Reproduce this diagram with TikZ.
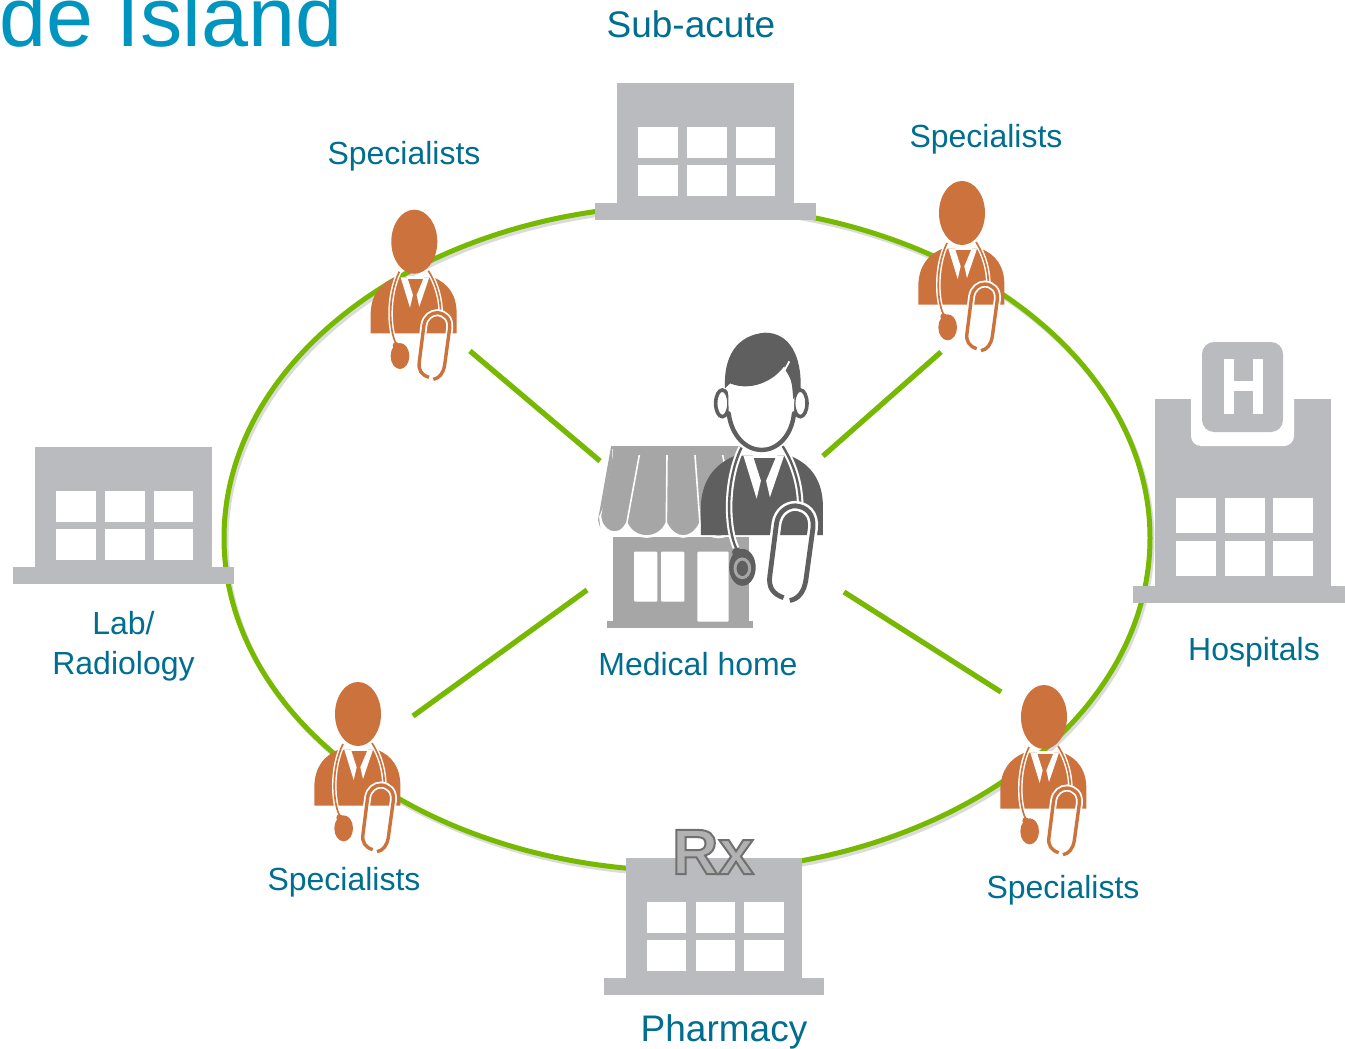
\documentclass[tikz,border=0pt]{standalone}
\usepackage{fontspec}
\setmainfont{Liberation Sans}
\definecolor{ringgreen}{HTML}{76B900}
\definecolor{bldggray}{HTML}{BABBBF}
\definecolor{docorange}{HTML}{CC723C}
\definecolor{labelblue}{HTML}{006E91}
\definecolor{titleblue}{HTML}{0095BF}
\definecolor{darkdoc}{HTML}{5F5F5F}
\definecolor{storegray}{HTML}{A6A6A6}
\tikzset{
  lab/.style={inner sep=0pt,text=labelblue,font=\fontsize{32}{40}\selectfont,align=center},
  biglab/.style={inner sep=0pt,text=labelblue,font=\fontsize{37}{42}\selectfont},
  spoke/.style={draw=ringgreen,line width=5.2pt},
  spokeshadow/.style={draw=black,opacity=.14,line width=5pt},
}
\newcommand{\windowrow}[2]{%
  \fill[white] (#1+21,#2) rectangle ++(39.5,31.5);
  \fill[white] (#1+70,#2) rectangle ++(39.5,31.5);
  \fill[white] (#1+118.5,#2) rectangle ++(39.5,31.5);}
\newcommand{\bldgfig}[2]{%
  \fill[bldggray] (#1,#2) rectangle ++(176.5,121);
  \fill[bldggray] (#1-22,#2+120) rectangle ++(220.5,17);
  \windowrow{#1}{#2+43.5}
  \windowrow{#1}{#2+81.5}}
\newcommand{\docbody}[4]{%
\begin{scope}[shift={(#1,#2)},scale=#3/3,shift={(-193,-125)}]
  \fill[#4] (62,400) -- (62,340) .. controls (64,285) and (90,250) .. (135,232)
     -- (250,232) .. controls (295,250) and (320,285) .. (320,340) -- (320,400) -- cycle;
  \fill[white] (152,232) -- (180,323) -- (189,285) -- (172,232) -- cycle;
  \fill[white] (238,232) -- (208,320) -- (200,285) -- (222,232) -- cycle;
  \fill[white] (172,228) rectangle (222,236);
  \draw[white,line width=#3*4.6pt] (148,215) .. controls (112,290) and (118,390) .. (137,428);
  \draw[#4,line width=#3*1.7pt] (148,215) .. controls (112,290) and (118,390) .. (137,428);
  \draw[white,line width=#3*4.6pt] (235,212) .. controls (262,255) and (272,300) .. (272,338);
  \draw[#4,line width=#3*1.7pt] (235,212) .. controls (262,255) and (272,300) .. (272,338);
  \draw[white,line width=#3*7pt] (237,532) .. controls (215,525) and (204,510) .. (208,485)
     -- (222,375) .. controls (226,350) and (245,338) .. (262,338)
     .. controls (285,340) and (302,355) .. (299,385)
     -- (284,495) .. controls (280,520) and (268,535) .. (250,538);
  \draw[#4,line width=#3*3.4pt] (237,532) .. controls (215,525) and (204,510) .. (208,485)
     -- (222,375) .. controls (226,350) and (245,338) .. (262,338)
     .. controls (285,340) and (302,355) .. (299,385)
     -- (284,495) .. controls (280,520) and (268,535) .. (250,538);
  \fill[#4] (150,468) ellipse[x radius=28,y radius=39];
  \fill[#4] (138,436) circle[radius=10];
\end{scope}}
\newcommand{\dochead}[2]{\fill[docorange] (#1,#2) ellipse[x radius=23,y radius=32];}
\begin{document}
\begin{tikzpicture}[x=1pt,y=-1pt]
\useasboundingbox (0,0) rectangle (1345,1049);
\clip (0,0) rectangle (1345,1049);
\fill[white] (0,0) rectangle (1345,1049);

\node[anchor=base west,inner sep=0pt,text=titleblue,font=\fontsize{84.5}{90}\selectfont] (title) at (-1,47) {de Island};

% ring
\draw[black,opacity=.14,line width=5pt] (689,541) ellipse[x radius=463,y radius=333];
\draw[ringgreen,line width=5pt] (687,538) ellipse[x radius=463,y radius=333];

% spokes
\coordinate (a1) at (470,351); \coordinate (a2) at (600,461);
\coordinate (b1) at (941,352); \coordinate (b2) at (823,456);
\coordinate (c1) at (413,716); \coordinate (c2) at (587,590);
\coordinate (d1) at (1001,692); \coordinate (d2) at (844,592);
\begin{scope}[shift={(2,3)}]
\draw[spokeshadow] (a1) -- (a2); \draw[spokeshadow] (b1) -- (b2);
\draw[spokeshadow] (c1) -- (c2); \draw[spokeshadow] (d1) -- (d2);
\end{scope}
\draw[spoke] (a1) -- (a2); \draw[spoke] (b1) -- (b2);
\draw[spoke] (c1) -- (c2); \draw[spoke] (d1) -- (d2);

% buildings
\bldgfig{617}{83}
\bldgfig{35}{447}
\bldgfig{625.5}{858}

% hospital
\fill[bldggray] (1155,399) rectangle (1331,590);
\fill[bldggray] (1133,586) rectangle (1345,603);
\fill[white,rounded corners=10pt] (1191,390) rectangle (1294,446);
\fill[white] (1185,380) rectangle (1300,399);
\fill[bldggray,rounded corners=12pt] (1202,342) rectangle (1283,432);
\fill[white] (1224,359) rectangle (1234,414);
\fill[white] (1253,359) rectangle (1263,414);
\fill[white] (1234,381) rectangle (1253,391);
\foreach \wy in {498,541}{
  \fill[white] (1176,\wy) rectangle ++(39.5,34.5);
  \fill[white] (1225,\wy) rectangle ++(39.5,34.5);
  \fill[white] (1273,\wy) rectangle ++(39.5,34.5);}

% Rx
\node[anchor=base,inner sep=0pt,font=\fontsize{64}{70}\selectfont\bfseries] (rx) at (713,874)
  {\special{pdf:code 2 Tr 2 w 0.44 G 0.70 g}Rx\special{pdf:code 0 Tr 0 g 0 G}};

% store
\begin{scope}[shift={(590,320)},scale=1/3]
  \fill[storegray] (68,652) rectangle (477,905);
  \fill[storegray] (50,903) rectangle (490,923);
  \fill[white,rounded corners=1pt] (132,695) rectangle (202,845);
  \fill[white,rounded corners=1pt] (213,695) rectangle (283,845);
  \fill[white,rounded corners=1pt] (322,695) rectangle (416,905);
  \draw[white,line width=2.6pt,fill=storegray] (65,380) -- (65,405) -- (30,585)
     .. controls (30,635) and (85,660) .. (110,612)
     .. controls (135,662) and (205,662) .. (229,612)
     .. controls (255,662) and (305,662) .. (330,612)
     .. controls (355,664) and (410,664) .. (450,612) -- (450,380);
  \fill[storegray] (64,378) rectangle (450,386);
  \fill[storegray] (63,380) -- (67,380) -- (67,420) -- (40,560) -- (27,590) -- (31,625) -- (24,600) -- cycle;
  \draw[white,line width=1.6pt] (148,405) -- (110,612);
  \draw[white,line width=1.6pt] (231,405) -- (229,612);
  \draw[white,line width=1.6pt] (315,405) -- (330,612);
  \draw[white,line width=1.6pt] (398,405) -- (405,440);
\end{scope}

% central doctor
\docbody{762.8}{405}{1.42}{darkdoc}
\begin{scope}[shift={(590,320)},scale=1/3]
  \draw[storegray,line width=3pt] (457,745) ellipse[x radius=22,y radius=28];
  \fill[darkdoc] (457,745) ellipse[x radius=14,y radius=20];
  % ears
  \draw[darkdoc,line width=3.6pt,fill=white] (397,250) ellipse[x radius=20,y radius=40];
  \draw[darkdoc,line width=3.6pt,fill=white] (631,250) ellipse[x radius=20,y radius=40];
  % face fill, merging with the ears
  \fill[white] (414,190) -- (416,280)
     .. controls (425,350) and (470,390) .. (515,390)
     .. controls (560,390) and (605,350) .. (612,280) -- (614,190) -- cycle;
  % jaw line
  \draw[darkdoc,line width=4.4pt,line cap=round] (416,280)
     .. controls (425,350) and (470,390) .. (515,390)
     .. controls (560,390) and (605,350) .. (612,280);
  % hair
  \fill[darkdoc] (405,205) .. controls (400,110) and (440,45) .. (525,38)
     .. controls (600,38) and (635,110) .. (632,205)
     -- (610,237) -- (606,195) .. controls (602,175) and (596,165) .. (586,150)
     -- (583,138) .. controls (550,185) and (480,215) .. (420,190) -- cycle;
  \draw[white,line width=1.8pt] (583,152) -- (598,124);
\end{scope}

% orange doctors
\dochead{414.3}{241.7}
\docbody{414.3}{241.7}{1}{docorange}
\dochead{962}{213}
\docbody{962}{213}{1}{docorange}
\dochead{358}{714}
\docbody{358}{714}{1}{docorange}
\dochead{1044}{717}
\docbody{1044}{717}{1}{docorange}

% labels
\node[biglab] (subacute) at (691,24) {Sub-acute};
\node[lab] (spec1) at (404,156) {Specialists};
\node[lab] (spec2) at (986,139) {Specialists};
\node[lab] (spec3) at (344,882) {Specialists};
\node[lab] (spec4) at (1063,890) {Specialists};
\node[lab,text width=200pt] (labrad) at (123.5,646) {Lab/\\Radiology};
\node[lab] (medhome) at (698,664) {Medical home};
\node[lab] (hospitals) at (1254,652) {Hospitals};
\node[biglab] (pharmacy) at (724,1032) {Pharmacy};
\end{tikzpicture}
\end{document}
